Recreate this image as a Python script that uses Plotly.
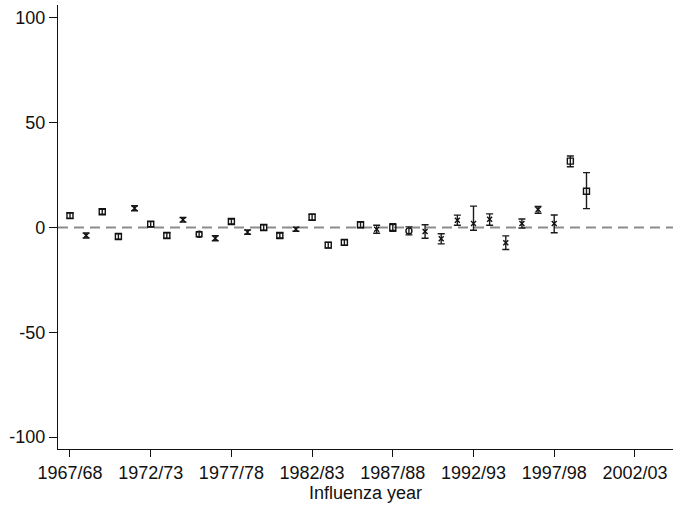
import plotly.graph_objects as go

years = list(range(1967, 2000))
estimate = [5.7, -3.8, 7.5, -4.3, 9.2, 1.6, -3.8, 3.7, -3.2, -5.1,
            2.9, -2.2, 0.0, -3.8, -0.8, 4.9, -8.4, -7.1, 1.3, -0.8,
            0.0, -1.6, -1.9, -5.4, 3.5, 1.9, 4.0, -7.3, 1.9, 8.6,
            1.9, 31.7, 17.3]
lower = [4.5, -5.0, 6.3, -5.6, 8.0, 0.4, -5.1, 2.6, -4.4, -6.3,
         1.7, -3.2, -1.3, -5.0, -1.8, 3.5, -9.7, -8.4, 0.0, -2.7,
         -1.8, -3.5, -5.1, -7.8, 1.1, -1.3, 1.1, -10.5, -0.2, 6.8,
         -2.5, 29.0, 9.0]
upper = [6.9, -2.6, 8.7, -3.0, 10.4, 2.8, -2.5, 4.8, -2.0, -3.9,
         4.1, -1.2, 1.3, -2.6, 0.2, 6.3, -7.1, -5.8, 2.6, 1.1,
         1.8, 0.3, 1.3, -3.0, 5.9, 10.2, 6.5, -4.0, 4.1, 10.0,
         6.0, 34.1, 26.2]
symbols = ["sq", "x", "sq", "sq", "x", "sq", "sq", "x", "o", "x",
           "sq", "x", "sq", "sq", "x", "sq", "sq", "sq", "sq", "x",
           "sq", "o", "x", "x", "x", "x", "x", "x", "x", "x",
           "x", "sq", "sq"]
tick_years = [1967, 1972, 1977, 1982, 1987, 1992, 1997, 2002]
tick_labels = ["1967/68", "1972/73", "1977/78", "1982/83", "1987/88",
               "1992/93", "1997/98", "2002/03"]
y_ticks = [-100, -50, 0, 50, 100]
y_tick_labels = ["-100", "-50", "0", "50", "100"]

sym_map = {"sq": "square-open", "x": "x-thin-open", "o": "circle-open"}

fig = go.Figure()
fig.add_shape(type="line", xref="paper", x0=0, x1=1, yref="y", y0=0, y1=0,
              line=dict(color="#8c8c8c", width=2, dash="10px,6px"), layer="below")
# error bars (caps)
fig.add_trace(go.Scatter(
    x=years, y=estimate, mode="markers",
    marker=dict(size=1, color="rgba(0,0,0,0)"),
    error_y=dict(type="data", symmetric=False,
                 array=[u - e for u, e in zip(upper, estimate)],
                 arrayminus=[e - l for e, l in zip(estimate, lower)],
                 color="#1a1a1a", thickness=1.4, width=3.5),
    showlegend=False, hoverinfo="skip"))
for key in ["sq", "x", "o"]:
    xs = [y for y, s in zip(years, symbols) if s == key]
    ys = [v for v, s in zip(estimate, symbols) if s == key]
    fig.add_trace(go.Scatter(
        x=xs, y=ys, mode="markers",
        marker=dict(symbol=sym_map[key], size=6 if key != "x" else 5,
                    color="#111111", line=dict(width=1.4, color="#111111")),
        showlegend=False))

fig.update_layout(
    width=673, height=506,
    margin=dict(l=58, r=0, t=5, b=57, autoexpand=False),
    paper_bgcolor="white", plot_bgcolor="white",
    font=dict(family="Liberation Sans, Arial, sans-serif", size=18, color="#111111"),
    xaxis=dict(range=[1966.257, 2004.36], tickmode="array", tickvals=tick_years,
               ticktext=tick_labels, showgrid=False, zeroline=False,
               showline=True, linecolor="#111111", linewidth=1.4,
               ticks="outside", ticklen=7, tickcolor="#111111", tickwidth=1.4,
               automargin=False,
               title=dict(text="Influenza year", font=dict(size=18), standoff=0)),
    yaxis=dict(range=[-105.7, 106.2], tickmode="array", tickvals=y_ticks,
               ticktext=y_tick_labels,
               showgrid=False, zeroline=False, showline=True, automargin=False,
               linecolor="#111111", linewidth=1.4,
               ticks="outside", ticklen=8, tickcolor="#111111", tickwidth=1.4),
)

fig.write_html("out.html", config={"displayModeBar": False},
               post_script="document.body.style.margin='0';")
